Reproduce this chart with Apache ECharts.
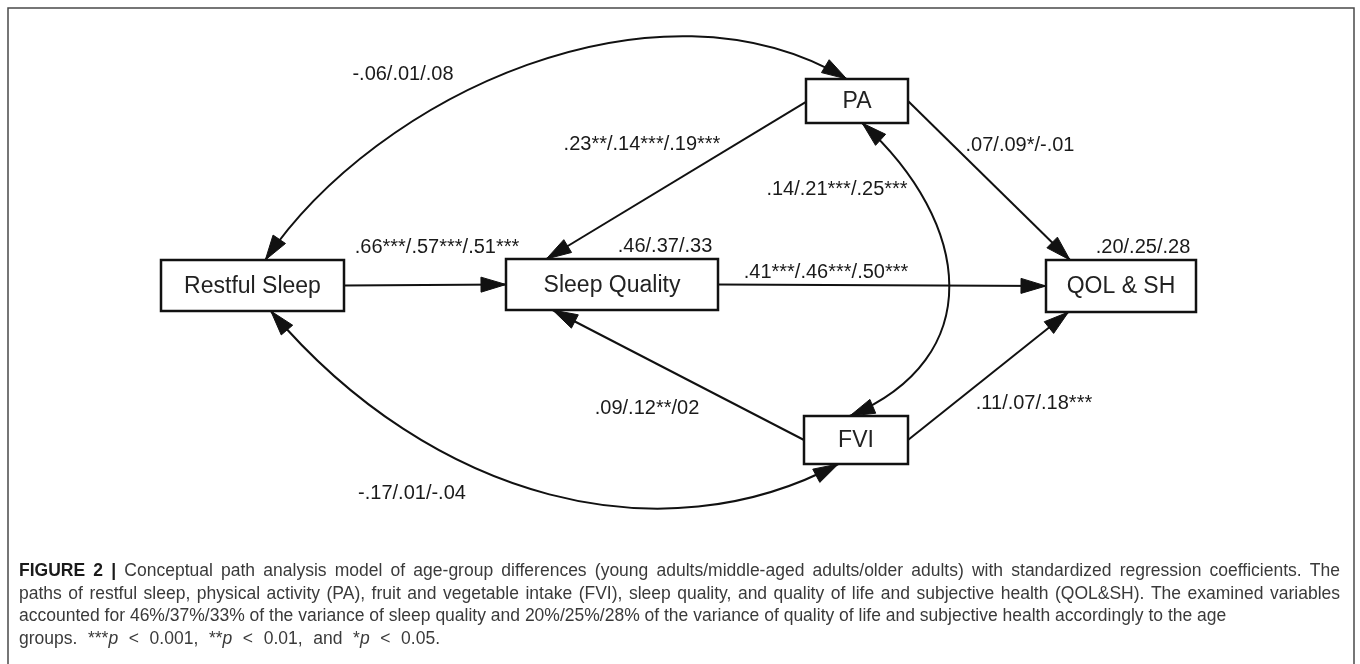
<!DOCTYPE html>
<html><head><meta charset="utf-8">
<script src="https://cdn.jsdelivr.net/npm/echarts@6/dist/echarts.min.js"></script>
<style>html,body{margin:0;padding:0;background:#fff}#c{width:1360px;height:664px}</style>
</head><body><div id="c"></div>
<script>
// ---------------- data ----------------
const nodeNames = ['Restful Sleep', 'Sleep Quality', 'PA', 'QOL & SH', 'FVI'];
const r2Nodes = ['Sleep Quality', 'QOL & SH'];
const r2Values = ['.46/.37/.33', '.20/.25/.28'];
const pathFrom = ['Restful Sleep', 'Sleep Quality', 'PA', 'PA', 'FVI', 'FVI', 'Restful Sleep', 'Restful Sleep', 'PA'];
const pathTo   = ['Sleep Quality', 'QOL & SH', 'Sleep Quality', 'QOL & SH', 'Sleep Quality', 'QOL & SH', 'PA', 'FVI', 'FVI'];
const pathCoef = ['.66***/.57***/.51***', '.41***/.46***/.50***', '.23**/.14***/.19***', '.07/.09*/-.01',
                  '.09/.12**/02', '.11/.07/.18***', '-.06/.01/.08', '-.17/.01/-.04', '.14/.21***/.25***'];
const pathKind = ['regression', 'regression', 'regression', 'regression', 'regression', 'regression',
                  'covariance', 'covariance', 'covariance'];
const captionLines = [
  '{b|FIGURE 2 |} Conceptual path analysis model of age-group differences (young adults/middle-aged adults/older adults) with standardized regression coefficients. The',
  'paths of restful sleep, physical activity (PA), fruit and vegetable intake (FVI), sleep quality, and quality of life and subjective health (QOL&SH). The examined variables',
  'accounted for 46%/37%/33% of the variance of sleep quality and 20%/25%/28% of the variance of quality of life and subjective health accordingly to the age',
  'groups. ***{i|p} < 0.001, **{i|p} < 0.01, and *{i|p} < 0.05.'
];

// ---------------- layout (positions / sizes) ----------------
const nodeBox = [            // [x0, y0, x1, y1] in diagram units
  [161, 260, 344, 311],
  [506, 259, 718, 310],
  [806, 79, 908, 123],
  [1046, 260, 1196, 312],
  [804, 416, 908, 464]
];
const pathGeom = [
  { from: ['right', 0.5], to: ['left', 0.5] },
  { from: ['right', 0.5], to: ['left', 0.5] },
  { from: ['left', 0.52], to: ['top', 0.19] },
  { from: ['right', 0.5], to: ['top', 0.16] },
  { from: ['left', 0.5], to: ['bottom', 0.22] },
  { from: ['right', 0.5], to: ['bottom', 0.15] },
  { from: ['top', 0.57], to: ['top', 0.40], c1: [112, -166], c2: [-189, -113] },
  { from: ['bottom', 0.60], to: ['bottom', 0.33], c1: [162, 191], c2: [-176, 94] },
  { from: ['bottom', 0.55], to: ['top', 0.44], c1: [111, 101], c2: [138, -58] }
];
const labelPos = [[437, 247], [826, 272], [642, 144], [1020, 145], [647, 408], [1034, 403], [403, 74], [412, 493], [837, 189]];
const r2Pos = [[665, 246], [1143, 247]];
const captionLeft = 19, captionTopCenter = 571, captionLineGap = 22.8, CAP_SIZE = 17.5;
const captionRightEdge = [1340, 1340, null, 440];   // null = natural width

const FONT = '"Liberation Sans", Arial, Helvetica, sans-serif';
const INK = '#111';
const ARROW_L = 25, ARROW_W = 7.5;

function anchor(name, spec) {
  const b = nodeBox[nodeNames.indexOf(name)];
  const side = spec[0], f = spec[1];
  if (side === 'left') return [b[0], b[1] + f * (b[3] - b[1])];
  if (side === 'right') return [b[2], b[1] + f * (b[3] - b[1])];
  if (side === 'top') return [b[0] + f * (b[2] - b[0]), b[1]];
  return [b[0] + f * (b[2] - b[0]), b[3]];
}
function arrowHead(tip, from) {
  let dx = tip[0] - from[0], dy = tip[1] - from[1];
  const n = Math.hypot(dx, dy); dx /= n; dy /= n;
  const bx = tip[0] - ARROW_L * dx, by = tip[1] - ARROW_L * dy;
  return {
    type: 'polygon',
    shape: { points: [tip, [bx - ARROW_W * dy, by + ARROW_W * dx], [bx + ARROW_W * dy, by - ARROW_W * dx]] },
    style: { fill: INK, stroke: INK, lineWidth: 1 }
  };
}

function renderPath(params, api) {
  const i = params.dataIndex;
  const g = pathGeom[i];
  const pa = anchor(pathFrom[i], g.from), pb = anchor(pathTo[i], g.to);
  const A = api.coord(pa), B = api.coord(pb);
  const children = [];
  let fromDirA, fromDirB;
  if (g.c1) {
    const C1 = api.coord([pa[0] + g.c1[0], pa[1] + g.c1[1]]);
    const C2 = api.coord([pb[0] + g.c2[0], pb[1] + g.c2[1]]);
    children.push({ type: 'bezierCurve',
      shape: { x1: A[0], y1: A[1], x2: B[0], y2: B[1], cpx1: C1[0], cpy1: C1[1], cpx2: C2[0], cpy2: C2[1] },
      style: { stroke: INK, lineWidth: 2, fill: null } });
    fromDirA = C1; fromDirB = C2;
  } else {
    children.push({ type: 'line', shape: { x1: A[0], y1: A[1], x2: B[0], y2: B[1] },
      style: { stroke: INK, lineWidth: 2 } });
    fromDirA = B; fromDirB = A;
  }
  children.push(arrowHead(B, fromDirB));
  if (pathKind[i] === 'covariance') children.push(arrowHead(A, fromDirA));
  const L = api.coord(labelPos[i]);
  children.push({ type: 'text', x: L[0], y: L[1],
    style: { text: pathCoef[i], fill: '#1a1a1a', font: '20px ' + FONT, align: 'center', verticalAlign: 'middle' } });
  return { type: 'group', children };
}

function renderNode(params, api) {
  const i = params.dataIndex;
  const b = nodeBox[i];
  const p0 = api.coord([b[0], b[1]]), p1 = api.coord([b[2], b[3]]);
  const children = [
    { type: 'rect', shape: { x: p0[0], y: p0[1], width: p1[0] - p0[0], height: p1[1] - p0[1] },
      style: { fill: '#fff', stroke: INK, lineWidth: 2.5 } },
    { type: 'text', x: (p0[0] + p1[0]) / 2, y: (p0[1] + p1[1]) / 2 + 1,
      style: { text: nodeNames[i], fill: '#222', font: '23px ' + FONT, align: 'center', verticalAlign: 'middle' } }
  ];
  const k = r2Nodes.indexOf(nodeNames[i]);
  if (k >= 0) {
    const q = api.coord(r2Pos[k]);
    children.push({ type: 'text', x: q[0], y: q[1],
      style: { text: r2Values[k], fill: '#1a1a1a', font: '20px ' + FONT, align: 'center', verticalAlign: 'middle' } });
  }
  return { type: 'group', children };
}

// caption: parse simple {b|..}/{i|..} markup and lay words out to the original line extents
function captionElements() {
  const ctx = document.createElement('canvas').getContext('2d');
  const fontOf = s => (s === 'b' ? 'bold ' : s === 'i' ? 'italic ' : '') + CAP_SIZE + 'px ' + FONT;
  const colorOf = s => (s === 'b' ? '#1a1a1a' : '#3a3a3a');
  const els = [];
  captionLines.forEach((line, j) => {
    const runs = [];
    const re = /\{(\w)\|([^}]*)\}/g; let last = 0, m;
    while ((m = re.exec(line))) {
      if (m.index > last) runs.push(['n', line.slice(last, m.index)]);
      runs.push([m[1], m[2]]); last = re.lastIndex;
    }
    if (last < line.length) runs.push(['n', line.slice(last)]);
    const pieces = []; let pendingSpace = false;
    runs.forEach(([s, t]) => {
      t.split(' ').forEach((p, k) => {
        if (k > 0) pendingSpace = true;
        if (p.length) { pieces.push({ text: p, s, space: pendingSpace && pieces.length > 0 }); pendingSpace = false; }
      });
    });
    ctx.font = fontOf('n');
    const spaceW = ctx.measureText(' ').width;
    let natural = 0, nSpaces = 0;
    pieces.forEach(p => { ctx.font = fontOf(p.s); p.w = ctx.measureText(p.text).width; natural += p.w; if (p.space) { nSpaces++; natural += spaceW; } });
    const target = captionRightEdge[j];
    const extra = (target != null && nSpaces) ? Math.max(0, (target - captionLeft - natural) / nSpaces) : 0;
    let x = captionLeft;
    const y = captionTopCenter + j * captionLineGap;
    pieces.forEach(p => {
      if (p.space) x += spaceW + extra;
      els.push({ type: 'text', x, y, z: 5,
        style: { text: p.text, font: fontOf(p.s), fill: colorOf(p.s), verticalAlign: 'middle', align: 'left' } });
      x += p.w;
    });
  });
  return els;
}

const chart = echarts.init(document.getElementById('c'), null, { renderer: 'canvas' });
chart.setOption({
  animation: false,
  backgroundColor: '#fff',
  grid: { left: 0, right: 0, top: 0, bottom: 0 },
  xAxis: { type: 'value', min: 0, max: 1360, show: false },
  yAxis: { type: 'value', min: 0, max: 664, inverse: true, show: false },
  graphic: [
    { type: 'polyline', shape: { points: [[8, 664], [8, 8], [1354, 8], [1354, 664]] },
      style: { stroke: '#4a4a4a', lineWidth: 1.5, fill: null }, z: 0 }
  ].concat(captionElements()),
  series: [
    { type: 'custom', coordinateSystem: 'cartesian2d', clip: false, z: 2,
      data: pathCoef.map((c, i) => [i, 0]), renderItem: renderPath },
    { type: 'custom', coordinateSystem: 'cartesian2d', clip: false, z: 3,
      data: nodeNames.map((n, i) => [i, 0]), renderItem: renderNode }
  ]
});
</script></body></html>
